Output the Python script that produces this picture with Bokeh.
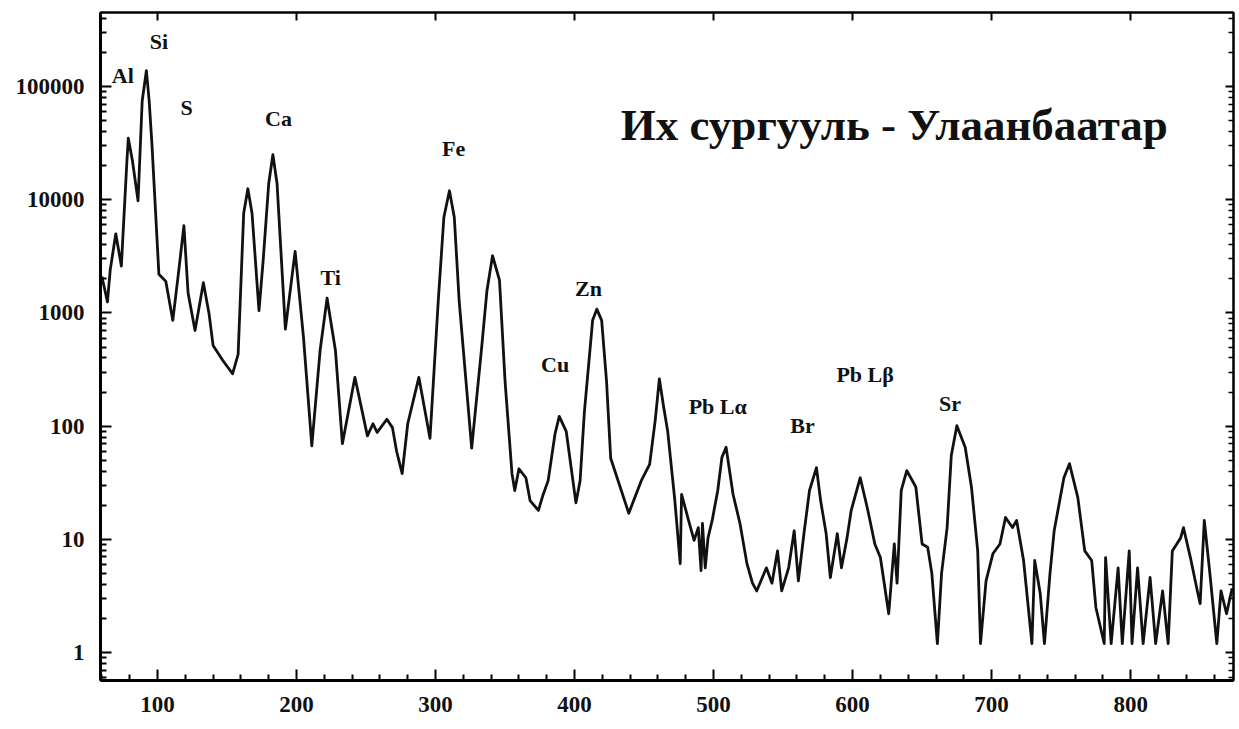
from bokeh.plotting import figure
from bokeh.models import (Range1d, LinearAxis, LogAxis, FixedTicker,
                          PrintfTickFormatter, ColumnDataSource)
from bokeh.embed import file_html
from bokeh.resources import INLINE
from bokeh.core.properties import value

# ---------------- data ----------------
channel = [60, 64, 66, 70, 74, 78, 79, 82, 86, 89, 92, 94, 96, 101, 106, 111, 115,
           119, 122, 127, 133, 137, 140, 147, 154, 158, 162, 165, 168, 173, 176,
           180, 183, 186, 192, 199, 205, 211, 217, 222, 228, 233, 242, 251, 255,
           258, 265, 269, 272, 276, 280, 288, 296, 302, 306, 310, 313.5, 317, 326,
           333, 337, 341, 346, 348, 350, 355, 357, 360, 365, 368, 374, 377, 381,
           386, 389, 394, 401, 404, 407, 413, 416, 419.5, 423, 426, 439, 448, 454,
           458, 461, 464, 467, 472, 476, 477, 482, 486, 489, 491, 492, 494, 496,
           499, 503, 506, 509, 514, 519, 524, 528, 531, 538, 542, 546, 549, 554,
           558, 561, 565, 569, 574, 577, 581, 584, 589, 592, 596, 599, 605.5, 611,
           616, 620, 626, 630, 632, 635, 639, 645.5, 650, 654, 657, 661, 664, 668,
           671, 675, 681, 685.5, 690, 692, 696, 701, 706, 710, 715, 718, 723, 729,
           731, 735, 738, 742, 745, 752, 756, 762, 767, 772, 775, 781, 782, 786,
           791, 794, 799, 801, 805, 809, 814, 818, 823, 827, 830, 836, 838, 843,
           848, 850, 853, 857, 862, 865, 869, 873]
counts = [2100, 1250, 2400, 5000, 2600, 22000, 35000, 22000, 9800, 75000, 138000,
          75000, 31000, 2200, 1900, 860, 2200, 5900, 1500, 700, 1850, 1000, 515,
          380, 290, 430, 7600, 12500, 7600, 1050, 2900, 13900, 25000, 13900, 720,
          3500, 610, 67, 470, 1350, 466, 70, 270, 82, 105, 88, 115, 97, 60, 38,
          105, 270, 78, 1300, 7000, 12000, 7000, 1280, 64, 470, 1580, 3200, 1950,
          700, 250, 38, 27, 42, 35, 22, 18, 24, 33, 86, 122, 90, 21, 33, 130, 860,
          1080, 860, 250, 52, 17, 33, 46, 112, 262, 150, 90, 23, 6.1, 25, 14.7,
          9.8, 12.7, 5.3, 13.8, 5.6, 10.3, 14.7, 27, 53, 65, 25, 13.8, 6.1, 4.1,
          3.5, 5.6, 4.1, 7.9, 3.5, 5.6, 11.9, 4.3, 11.2, 27, 43, 22, 11.2, 4.6,
          11.2, 5.6, 10.3, 18, 35, 18, 9.1, 6.9, 2.2, 9.1, 4.1, 27, 40.5, 29, 9.1,
          8.5, 5, 1.2, 5, 12.7, 55, 101, 65, 29, 7.9, 1.2, 4.3, 7.5, 9.1, 15.6,
          12.7, 14.7, 6.5, 1.2, 6.5, 3.3, 1.2, 5, 11.9, 35, 46.6, 23.5, 7.9, 6.5,
          2.5, 1.2, 6.9, 1.2, 5.6, 1.2, 7.9, 1.2, 5.6, 1.2, 4.6, 1.2, 3.5, 1.2,
          7.9, 10.3, 12.7, 6.9, 3.5, 2.7, 14.7, 5, 1.2, 3.5, 2.2, 3.7]

peak_names = ["Al", "Si", "S", "Ca", "Ti", "Fe", "Cu", "Zn",
              "Pb Lα", "Br", "Pb Lβ", "Sr"]
peak_label_x = [75, 101, 121, 187, 224.5, 313, 386, 410, 503, 564, 609, 670]
peak_label_y = [126000, 252000, 65600, 51800, 2070, 28600, 352, 1640,
                149, 101, 286, 157]

title_text = ["Их сургууль - Улаанбаатар"]
title_x = [630]
title_y = [46000]

x_ticks = [100, 200, 300, 400, 500, 600, 700, 800]
x_minor = [60, 80, 120, 140, 160, 180, 220, 240, 260, 280, 320, 340, 360, 380,
           420, 440, 460, 480, 520, 540, 560, 580, 620, 640, 660, 680, 720, 740,
           760, 780, 820, 840, 860]
y_ticks = [1, 10, 100, 1000, 10000, 100000]
y_minor = [m * d for d in [0.1, 1, 10, 100, 1000, 10000, 100000]
           for m in [2, 3, 4, 5, 6, 7, 8, 9]]

FONT = "Liberation Serif"

# ---------------- figure ----------------
p = figure(width=1238, height=724, x_range=Range1d(59, 874),
           y_range=Range1d(0.566, 451000), y_axis_type="log",
           output_backend="svg", toolbar_location=None,
           min_border_left=100, min_border_right=5, min_border_top=12,
           min_border_bottom=44, background_fill_color="white",
           border_fill_color="white")
p.grid.visible = False
p.outline_line_color = "black"
p.outline_line_width = 2

src = ColumnDataSource(dict(x=channel, y=counts))
p.line("x", "y", source=src, line_color="#111111", line_width=2.8,
       line_join="round")

lab = ColumnDataSource(dict(x=peak_label_x, y=peak_label_y, t=peak_names))
p.text("x", "y", text="t", source=lab, text_align="center",
       text_baseline="middle", text_font=value(FONT), text_font_style="bold",
       text_font_size="22px", text_color="#111111")

tsrc = ColumnDataSource(dict(x=title_x, y=title_y, t=title_text))
p.text("x", "y", text="t", source=tsrc, text_align="center",
       text_baseline="middle", text_font=value(FONT), text_font_style="bold",
       text_font_size="45px", text_color="#111111")

# bottom axis
xa = p.xaxis[0]
xa.ticker = FixedTicker(ticks=x_ticks, minor_ticks=x_minor)
# left axis
ya = p.yaxis[0]
ya.ticker = FixedTicker(ticks=y_ticks, minor_ticks=y_minor)
ya.formatter = PrintfTickFormatter(format="%d")

for ax in (xa, ya):
    ax.axis_line_width = 3
    ax.axis_line_color = "black"
    ax.major_tick_in = 11
    ax.major_tick_out = 0
    ax.minor_tick_in = 6
    ax.minor_tick_out = 0
    ax.major_tick_line_width = 2
    ax.minor_tick_line_width = 2
    ax.major_label_text_font = FONT
    ax.major_label_text_font_style = "bold"
    ax.major_label_text_font_size = "23px"
    ax.major_label_text_color = "#111111"
xa.major_label_standoff = 16
ya.major_label_standoff = 16

top = LinearAxis(ticker=FixedTicker(ticks=x_ticks, minor_ticks=[]))
right = LogAxis(ticker=FixedTicker(ticks=y_ticks, minor_ticks=y_minor))
for ax in (top, right):
    ax.axis_line_width = 2
    ax.major_tick_in = 8
    ax.major_tick_out = 0
    ax.minor_tick_in = 5
    ax.minor_tick_out = 0
    ax.major_tick_line_width = 2
    ax.minor_tick_line_width = 1.5
    ax.major_label_text_font_size = "10px"
    ax.major_label_text_color = None
    ax.major_label_standoff = 0
p.add_layout(top, "above")
p.add_layout(right, "right")

open("out.html", "w").write(file_html(p, INLINE))
